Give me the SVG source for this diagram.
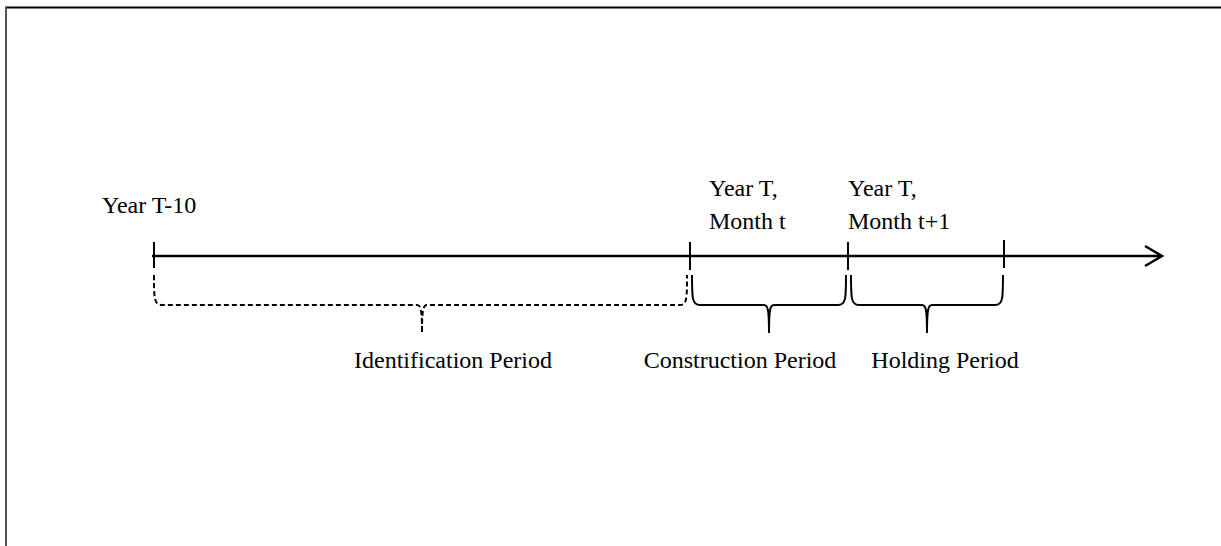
<svg xmlns="http://www.w3.org/2000/svg" width="1221" height="546" viewBox="0 0 1221 546">
<style>
text{font-family:"Liberation Serif","Times New Roman",serif;font-size:24px;fill:#000}
.ax{stroke:#000;stroke-width:2.5;fill:none}
.tk{stroke:#000;stroke-width:2;fill:none}
.br{stroke:#000;stroke-width:2;fill:none}
.dash{stroke-dasharray:5 3}
</style>
<rect width="1221" height="546" fill="#fff"/>
<g id="frame">
<line x1="5" y1="7.5" x2="1221" y2="7.5" stroke="#000" stroke-width="2"/>
<line x1="6" y1="7" x2="6" y2="546" stroke="#555" stroke-width="2"/>
</g>
<g id="connectors">
<line class="ax" x1="152" y1="256" x2="1162" y2="256"/>
<polyline class="ax" points="1145,246 1162,256 1145,266"/>
<line class="tk" x1="154" y1="242" x2="154" y2="268"/>
<line class="tk" x1="690" y1="242" x2="690" y2="270"/>
<line class="tk" x1="848" y1="242" x2="848" y2="270"/>
<line class="tk" x1="1004" y1="240" x2="1004" y2="268"/>
</g>
<g id="brace-identification">
<path class="br dash" d="M154,275 C154,298 154,305 162,305 L417,305 C421,305 422,310 422,333 C422,310 423,305 427,305 L680,305 C687,305 687,298 687,275"/>
<text x="453" y="368" text-anchor="middle">Identification Period</text>
</g>
<g id="brace-construction">
<path class="br" d="M692,275 C692,298 692,305 700,305 L764,305 C768,305 769,310 769,333 C769,310 770,305 774,305 L838,305 C846,305 846,298 846,275"/>
<text x="740" y="368" text-anchor="middle">Construction Period</text>
</g>
<g id="brace-holding">
<path class="br" d="M851,275 C851,298 851,305 859,305 L922,305 C926,305 927,310 927,333 C927,310 928,305 932,305 L995,305 C1003,305 1003,298 1003,275"/>
<text x="945" y="368" text-anchor="middle">Holding Period</text>
</g>
<g id="label-t10">
<text x="102" y="213">Year T-10</text>
</g>
<g id="label-t">
<text x="709" y="196">Year T,</text>
<text x="709" y="229">Month t</text>
</g>
<g id="label-t1">
<text x="848" y="196">Year T,</text>
<text x="848" y="229">Month t+1</text>
</g>
</svg>
